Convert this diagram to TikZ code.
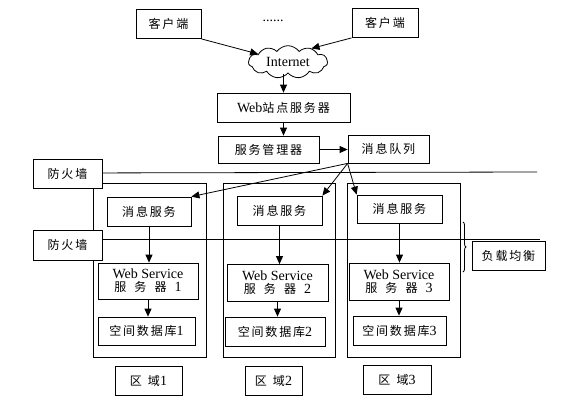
\documentclass[tikz,border=0pt]{standalone}
\usepackage{fontspec}
\setmainfont{Liberation Serif}
\newfontfamily\cjk[Scale=0.86, LetterSpace=15]{Noto Sans CJK SC}
\usepackage{tikz}
\usetikzlibrary{positioning, arrows.meta, shapes.symbols, decorations.pathreplacing}
\tikzset{
  box/.style={draw, line width=0.8pt, fill=white, inner sep=1pt, align=center, minimum height=29pt},
  zone/.style={draw, line width=0.8pt, minimum width=113pt, minimum height=174pt},
  arr/.style={-{Triangle[length=8pt, width=7pt]}, line width=0.8pt},
  wall/.style={line width=0.8pt},
}
\newcommand{\wsname}[1]{Web Service\\[-3pt]{\cjk 服\hspace{8pt}务\hspace{8pt}器}\hspace{8pt}#1}

\begin{document}
\begin{tikzpicture}[x=1pt, y=-1pt, font=\fontsize{14pt}{16pt}\selectfont]
    \useasboundingbox (0,0) rectangle (581,408);
    % clients and internet
    \node[box, minimum width=65pt] (cl1) at (168.5,24) {\cjk 客户端};
    \node[box, minimum width=66pt] (cl2) at (385,23) {\cjk 客户端};
    \node (dots) at (273,21) {......};
    \node[cloud, draw, line width=0.8pt, cloud puffs=11, cloud puff arc=110, aspect=2.5,
      inner sep=0pt, minimum width=79pt, minimum height=31pt] (net) at (288,62) {Internet};
    \node[box, minimum width=133pt] (web) at (283.5,107.5) {Web{\cjk 站点服务器}};
    \node[box, minimum width=101pt, minimum height=27pt] (mgr) at (268.5,149.5) {\cjk 服务管理器};
    \node[box, minimum width=81pt, minimum height=28pt] (queue) at (388.5,149) {\cjk 消息队列};
    % three zones
    \node[zone] (r1) at (149.5,270) {};
    \node[zone, minimum width=112pt] (r2) at (279,270) {};
    \node[zone] (r3) at (403.5,270) {};
    \node[box, minimum width=84pt] (ms1) at (149,211.5) {\cjk 消息服务};
    \node[box, minimum width=85pt] (ms2) at (279.5,210.5) {\cjk 消息服务};
    \node[box, minimum width=85pt, minimum height=28pt] (ms3) at (399.5,209) {\cjk 消息服务};
    \node[box, minimum width=100pt, minimum height=36pt] (ws1) at (148,281) {\wsname{1}};
    \node[box, minimum width=101pt, minimum height=37pt] (ws2) at (277.5,283) {\wsname{2}};
    \node[box, minimum width=100pt, minimum height=37pt] (ws3) at (399,281.5) {\wsname{3}};
    \node[box, minimum width=97pt, minimum height=28pt] (db1) at (146.5,331) {{\cjk 空间数据库}1};
    \node[box, minimum width=100pt] (db2) at (275,331.5) {{\cjk 空间数据库}2};
    \node[box, minimum width=93pt] (db3) at (399.5,330.5) {{\cjk 空间数据库}3};
    \node[box, minimum width=67pt] (z1) at (148.5,380.5) {{\cjk 区\hspace{6pt}域}1};
    \node[box, minimum width=57pt] (z2) at (273.5,380.5) {{\cjk 区\hspace{6pt}域}2};
    \node[box, minimum width=68pt] (z3) at (397,380) {{\cjk 区\hspace{6pt}域}3};
    % firewalls
    \draw[wall] (67.5,173) -- (537,172);
    \draw[wall] (67.5,239) -- (540,239);
    \node[box, minimum width=69pt] (fw1) at (67.5,173.5) {\cjk 防火墙};
    \node[box, minimum width=69pt, minimum height=30pt] (fw2) at (67.5,245) {\cjk 防火墙};
    % load balancing
    \node[box, minimum width=73pt] (lb) at (508.5,255.5) {\cjk 负载均衡};
    \draw[wall, decorate, decoration={brace, amplitude=3pt}] (463,222) -- (463,272);
    % connectors
    \draw[arr] (cl1.south east) -- (net.165);
    \draw[arr] (cl2.south west) -- (net.30);
    \draw[arr] (web.north |- net.south) -- (web.north);
    \draw[arr] (web.south) -- (web.south |- mgr.north);
    \draw[arr] (mgr.east) -- (mgr.east -| queue.west);
    \draw[arr] (queue.south west) -- (ms1.north east);
    \draw[arr] (queue.south west) -- (ms2.north east);
    \draw[arr] (queue.south west) -- (ms3.north west);
    \foreach \i in {1,2,3} {
      \draw[arr] (ms\i.south) -- (ms\i.south |- ws\i.north);
      \draw[arr] (ws\i.south) -- (ws\i.south |- db\i.north);
    }
  \end{tikzpicture}
\end{document}
